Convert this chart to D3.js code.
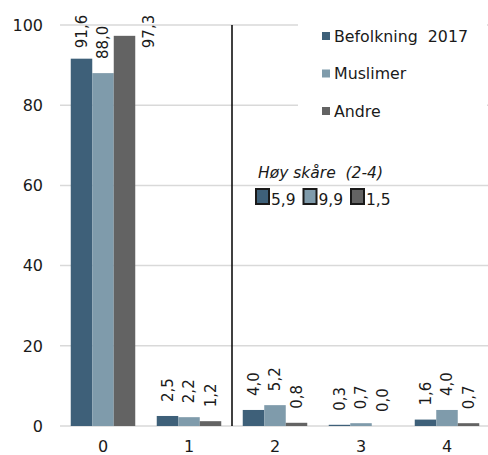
<!DOCTYPE html>
<html>
<head>
<meta charset="utf-8">
<script src="https://cdn.jsdelivr.net/npm/d3@7"></script>
<style>
  body { margin: 0; background: #fff; }
  text { font-family: "DejaVu Sans", sans-serif; fill: #1a1a1a; white-space: pre; }
</style>
</head>
<body>
<div id="holder"></div>
<script>
const categories = ['0', '1', '2', '3', '4'];
const seriesNames = ['Befolkning  2017', 'Muslimer', 'Andre'];
const befolkning = [91.6, 2.5, 4.0, 0.3, 1.6];
const muslimer = [88.0, 2.2, 5.2, 0.7, 4.0];
const andre = [97.3, 1.2, 0.8, 0.0, 0.7];
const highLabel = 'Høy skåre  (2-4)';
const highValues = [5.9, 9.9, 1.5];
const yTicks = [0, 20, 40, 60, 80, 100];
const colors = ['#3e6079', '#7f9bab', '#636363'];

const series = [befolkning, muslimer, andre];
const fmt = v => v.toFixed(1).replace('.', ',');

const w = 488, h = 455;
const padLeft = 60, padRight = 490, padTop = 25, padBottom = 426;

const svg = d3.select('#holder')
    .append('svg')
    .attr('width', w)
    .attr('height', h);

const xScale = d3.scaleBand()
    .domain(categories)
    .range([padLeft, padRight])
    .paddingInner(0.25)
    .paddingOuter(0.125);

const xInner = d3.scaleBand()
    .domain(d3.range(series.length))
    .range([0, xScale.bandwidth()]);

const yScale = d3.scaleLinear()
    .domain([0, 100])
    .range([padBottom, padTop]);

// grid
svg.append('g')
    .selectAll('line')
    .data(yTicks)
    .enter()
    .append('line')
    .attr('x1', padLeft)
    .attr('x2', w)
    .attr('y1', d => yScale(d))
    .attr('y2', d => yScale(d))
    .attr('stroke', '#d9d9d9')
    .attr('stroke-width', 1.5);

// y labels
svg.append('g')
    .selectAll('text')
    .data(yTicks)
    .enter()
    .append('text')
    .attr('x', 43)
    .attr('y', d => yScale(d))
    .attr('dy', '0.36em')
    .attr('text-anchor', 'end')
    .style('font-size', '16px')
    .text(d => d);

// x labels
svg.append('g')
    .selectAll('text')
    .data(categories)
    .enter()
    .append('text')
    .attr('x', d => xScale(d) + xScale.bandwidth() / 2)
    .attr('y', 446)
    .attr('dy', '0.36em')
    .attr('text-anchor', 'middle')
    .style('font-size', '16px')
    .text(d => d);

// bars
const groups = svg.append('g')
    .selectAll('g')
    .data(series)
    .enter()
    .append('g');

groups.selectAll('rect')
    .data((s, si) => s.map((v, i) => ({v, i, si})))
    .enter()
    .append('rect')
    .attr('x', d => xScale(categories[d.i]) + xInner(d.si))
    .attr('y', d => yScale(d.v))
    .attr('width', xInner.bandwidth())
    .attr('height', d => padBottom - yScale(d.v))
    .attr('fill', d => colors[d.si]);

// value labels
const labelSize = 15;
const labelLen = s => s.length * 8.3;
groups.selectAll('text')
    .data((s, si) => s.map((v, i) => ({v, i, si})))
    .enter()
    .append('text')
    .style('font-size', labelSize + 'px')
    .attr('dominant-baseline', 'central')
    .attr('text-anchor', 'start')
    .attr('transform', d => {
        let cx = xScale(categories[d.i]) + xInner(d.si) + xInner.bandwidth() / 2;
        let y0 = yScale(d.v) - 14;
        if (y0 - labelLen(fmt(d.v)) < 15) {
            y0 = 15 + labelLen(fmt(d.v));
            if (yScale(d.v) < y0 + 6) cx += xInner.bandwidth() / 2 + 14;
        }
        return 'translate(' + cx + ',' + y0 + ') rotate(-90)';
    })
    .text(d => fmt(d.v));

// separator between 1 and 2
const sepX = xScale('2') - xScale.step() * xScale.paddingInner() / 2;
svg.append('line')
    .attr('x1', sepX)
    .attr('x2', sepX)
    .attr('y1', padTop)
    .attr('y2', padBottom)
    .attr('stroke', '#000')
    .attr('stroke-width', 1.5);

// legend
const legend = svg.append('g');
legend.append('rect')
    .attr('x', 298)
    .attr('y', 10)
    .attr('width', 189)
    .attr('height', 115)
    .attr('fill', '#fff');

const items = legend.selectAll('g')
    .data(seriesNames)
    .enter()
    .append('g')
    .attr('transform', (d, i) => 'translate(322,' + (36 + i * 37.5) + ')');
items.append('rect')
    .attr('x', 0)
    .attr('y', -4)
    .attr('width', 8)
    .attr('height', 8)
    .attr('fill', (d, i) => colors[i]);
items.append('text')
    .attr('x', 12)
    .attr('y', 0)
    .attr('dy', '0.36em')
    .style('font-size', '15.8px')
    .text(d => d);

// high score annotation
svg.append('text')
    .attr('x', 258)
    .attr('y', 178)
    .style('font-size', '15.5px')
    .style('font-style', 'italic')
    .text(highLabel);

const high = svg.append('g')
    .selectAll('g')
    .data(highValues)
    .enter()
    .append('g')
    .attr('transform', (d, i) => 'translate(' + (256 + i * 47.5) + ',189)');
high.append('rect')
    .attr('width', 13)
    .attr('height', 15)
    .attr('fill', (d, i) => colors[i])
    .attr('stroke', '#1a1a1a')
    .attr('stroke-width', 2);
high.append('text')
    .attr('x', 15)
    .attr('y', 16)
    .style('font-size', '15.5px')
    .text(d => fmt(d));
</script>
</body>
</html>
